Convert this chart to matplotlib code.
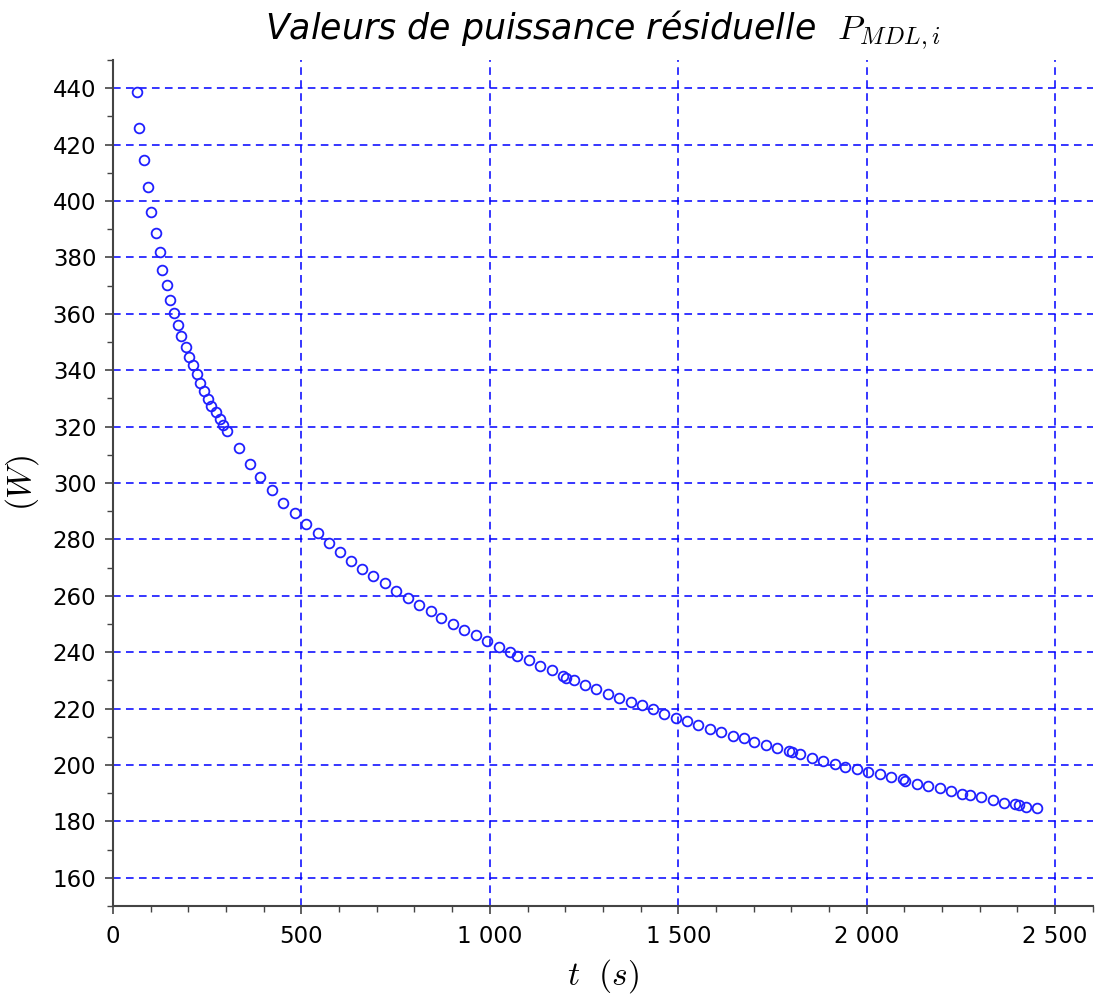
import matplotlib
matplotlib.use("Agg")
import matplotlib.pyplot as plt
from matplotlib.ticker import MultipleLocator, FuncFormatter

plt.rcParams['mathtext.fontset'] = 'cm'

# temps (s) et puissance residuelle (W)
t_s = [63, 70, 81, 94, 101, 113, 125, 131, 143, 150, 162, 173, 180, 193, 202,
       212, 223, 230, 242, 253, 261, 273, 285, 293, 302, 334, 364, 391, 421,
       451, 482, 513, 543, 573, 603, 631, 661, 691, 721, 751, 782, 813, 843,
       871, 901, 931, 962, 993, 1023, 1053, 1073, 1103, 1133, 1164, 1194, 1203,
       1222, 1252, 1282, 1313, 1344, 1374, 1404, 1434, 1463, 1493, 1522, 1552,
       1584, 1614, 1644, 1674, 1702, 1732, 1763, 1793, 1803, 1824, 1854, 1885,
       1916, 1943, 1973, 2004, 2034, 2064, 2095, 2102, 2133, 2163, 2194, 2224,
       2254, 2273, 2304, 2335, 2365, 2394, 2404, 2422, 2453]
p_w = [438.7, 425.8, 414.7, 405.0, 396.2, 388.6, 381.9, 375.7, 370.1, 365.0,
       360.4, 356.2, 352.3, 348.1, 344.7, 341.7, 338.5, 335.5, 332.7, 329.8,
       327.3, 325.2, 322.7, 320.5, 318.6, 312.5, 306.8, 302.2, 297.6, 292.9,
       289.3, 285.3, 282.2, 278.6, 275.5, 272.4, 269.5, 266.9, 264.4, 261.8,
       259.3, 256.7, 254.7, 252.1, 250.1, 248.0, 246.0, 243.9, 241.8, 239.9,
       238.6, 237.2, 235.0, 233.6, 231.5, 231.0, 230.1, 228.4, 226.9, 225.3,
       223.9, 222.2, 221.3, 219.8, 218.2, 216.8, 215.6, 214.1, 212.9, 211.6,
       210.4, 209.5, 208.2, 207.1, 206.0, 204.9, 204.6, 204.0, 202.5, 201.4,
       200.5, 199.4, 198.5, 197.4, 196.7, 195.7, 194.9, 194.4, 193.4, 192.7,
       191.7, 190.8, 189.7, 189.2, 188.5, 187.7, 186.7, 186.3, 185.8, 185.2,
       184.7]

fig = plt.figure(figsize=(10.95, 10.0), dpi=100)
ax = fig.add_axes([0.1032, 0.094, 0.8948, 0.846])

ax.plot(t_s, p_w, 'o', markersize=7, markerfacecolor='none',
        markeredgecolor='#2020ff', markeredgewidth=1.3, zorder=3)

ax.set_xlim(0, 2600)
ax.set_ylim(150, 450)
ax.xaxis.set_major_locator(MultipleLocator(500))
ax.xaxis.set_minor_locator(MultipleLocator(100))
ax.yaxis.set_minor_locator(MultipleLocator(10))
ax.set_yticks([v for v in range(160, 441, 20)])
ax.xaxis.set_major_formatter(FuncFormatter(lambda v, p: f"{int(v):,}".replace(",", " ")))

ax.grid(True, which='major', color='#0000ff', linestyle=(0, (5, 3.5)), linewidth=1.1)
for s in ['top', 'right']:
    ax.spines[s].set_visible(False)
for s in ['left', 'bottom']:
    ax.spines[s].set_color('#444444')
    ax.spines[s].set_linewidth(1.5)
ax.tick_params(which='major', length=6, width=1.2, color='#444444', labelsize=16.5, pad=6)
ax.tick_params(axis='x', which='major', pad=8)
ax.tick_params(which='minor', length=4, width=1.0, color='#444444')

ax.set_xlabel(r"$t\ \ (s)$", fontsize=24, labelpad=6)
ax.set_ylabel(r"$(W)$", fontsize=24, labelpad=8)
ax.set_title(r"Valeurs de puissance résiduelle  $P_{MDL,i}$", fontsize=25,
             style='italic', pad=15)

fig.savefig("out.png", dpi=100)
